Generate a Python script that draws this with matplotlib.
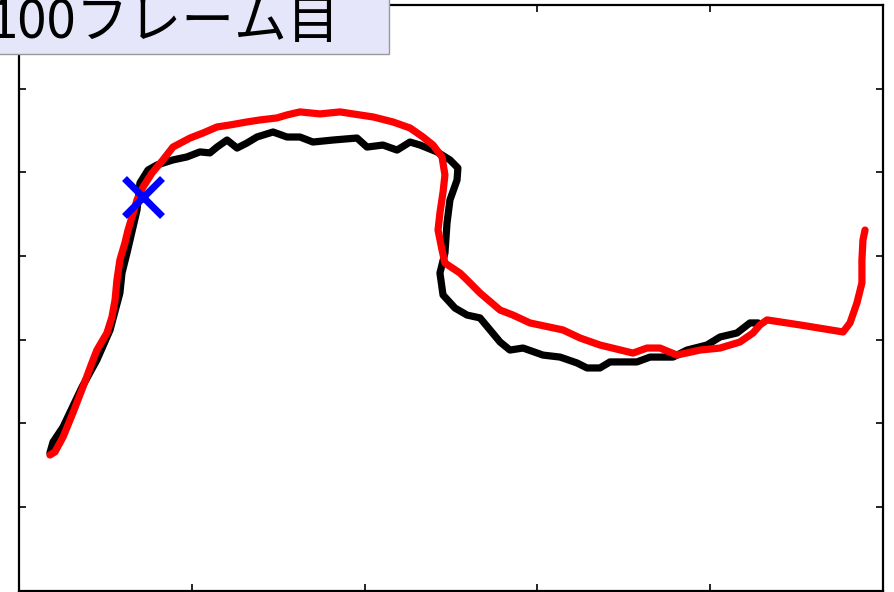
import matplotlib
matplotlib.use('Agg')
import matplotlib.pyplot as plt
from matplotlib.patches import Rectangle

plt.rcParams['font.family'] = ['Noto Sans CJK JP', 'DejaVu Sans']

title = '100フレーム目'

# ground truth path (black)
true_x = [17.9, 19.7, 25.5, 36.5, 45.1, 52.7, 58.4, 59.6, 62.5, 66.0, 68.3, 70.0,
          74.7, 79.9, 89.1, 97.2, 104.7, 110.5, 114.6, 120.4, 126.2, 131.9, 137.7,
          147.0, 155.1, 162.6, 170.1, 181.7, 195.6, 201.4, 210.6, 218.8, 226.3,
          232.1, 241.9, 249.4, 254.0, 253.5, 249.4, 247.7, 246.5, 243.6, 245.4,
          252.3, 259.3, 266.8, 272.6, 278.4, 284.1, 291.7, 303.2, 313.1, 322.9,
          328.7, 336.2, 342.0, 357.6, 365.2, 378.5, 386.6, 398.1, 405.7, 415.5,
          423.0, 427.7]
true_y = [267.7, 261.2, 252.2, 228.3, 212.1, 194.2, 172.1, 160.2, 148.2, 132.7,
          122.5, 106.4, 98.6, 95.6, 92.6, 90.8, 87.8, 88.4, 84.9, 80.7, 85.5, 82.5,
          78.9, 75.9, 78.9, 78.9, 81.9, 80.7, 79.5, 84.9, 83.7, 86.7, 81.9, 83.7,
          87.8, 92.6, 97.4, 104.6, 116.5, 130.3, 148.2, 160.2, 173.3, 181.1, 185.3,
          187.0, 194.2, 201.4, 206.2, 205.0, 209.2, 210.4, 213.9, 216.9, 216.9,
          213.3, 213.3, 210.4, 210.4, 206.2, 203.2, 198.4, 196.0, 190.0, 190.0]

# estimated path (red)
est_x = [17.9, 20.8, 25.5, 31.2, 37.0, 42.2, 45.1, 50.9, 53.8, 55.6, 56.7, 58.4,
         61.3, 63.1, 65.4, 68.3, 71.8, 77.0, 83.3, 89.1, 99.0, 106.5, 114.6, 122.1,
         131.9, 139.5, 149.3, 155.1, 162.6, 174.2, 185.8, 193.3, 204.9, 216.4,
         226.3, 233.8, 239.6, 244.8, 246.5, 245.4, 243.6, 242.5, 244.8, 246.5,
         255.2, 259.3, 266.8, 278.4, 285.9, 295.7, 314.8, 324.7, 336.2, 355.3,
         363.4, 370.9, 380.8, 394.1, 405.7, 417.2, 424.8, 428.8, 432.9, 452.0,
         476.9, 480.9, 484.9, 487.8, 487.8, 488.4, 489.6]
est_y = [268.9, 267.1, 258.2, 243.8, 228.3, 213.9, 206.2, 196.0, 186.5, 176.3,
         164.3, 152.4, 142.2, 134.5, 126.7, 116.5, 108.8, 100.4, 92.6, 84.9, 79.5,
         76.5, 72.9, 71.7, 69.9, 68.7, 67.5, 65.7, 63.9, 65.1, 63.9, 65.1, 66.9,
         69.9, 73.5, 78.9, 83.7, 90.8, 101.6, 111.8, 124.3, 134.5, 146.4, 154.2,
         160.2, 164.3, 172.1, 182.3, 185.3, 190.0, 194.2, 199.0, 203.2, 208.0,
         205.0, 205.0, 209.2, 206.2, 205.0, 201.4, 196.0, 191.2, 188.2, 191.2,
         195.4, 190.0, 178.1, 166.1, 152.4, 140.4, 134.5]

# current frame position
mark_x = [71.8]
mark_y = [114.7]

fig = plt.figure(figsize=(8.95, 5.92), dpi=100)
ax = fig.add_axes([0.0212, 0.0022, 0.9654, 0.9894])

ax.plot(true_x, true_y, color='black', lw=5.2, solid_capstyle='round', solid_joinstyle='round')
ax.plot(est_x, est_y, color='red', lw=5.2, solid_capstyle='round', solid_joinstyle='round')
ax.plot(mark_x, mark_y, 'x', color='blue', ms=28, mew=5)

ax.set_xlim(0, 500)
ax.set_ylim(350, 0)
ax.set_xticks([100, 200, 300, 400])
ax.set_yticks([50, 100, 150, 200, 250, 300])
ax.set_xticklabels([])
ax.set_yticklabels([])
ax.tick_params(direction='in', length=5, width=1.2, top=True, right=True)
for s in ax.spines.values():
    s.set_linewidth(1.6)

box_bottom = 1 - 54 / 592
fig.patches.append(Rectangle((-0.02, box_bottom), 0.02 + 389 / 895, 1.02 - box_bottom,
                             transform=fig.transFigure, facecolor='#e6e6fa',
                             edgecolor='#999999', lw=1, zorder=5))
fig.text(340 / 895, 1 - 38 / 592, title, ha='right', va='baseline',
         fontsize=38, zorder=6)

fig.savefig('out.png', dpi=100)
